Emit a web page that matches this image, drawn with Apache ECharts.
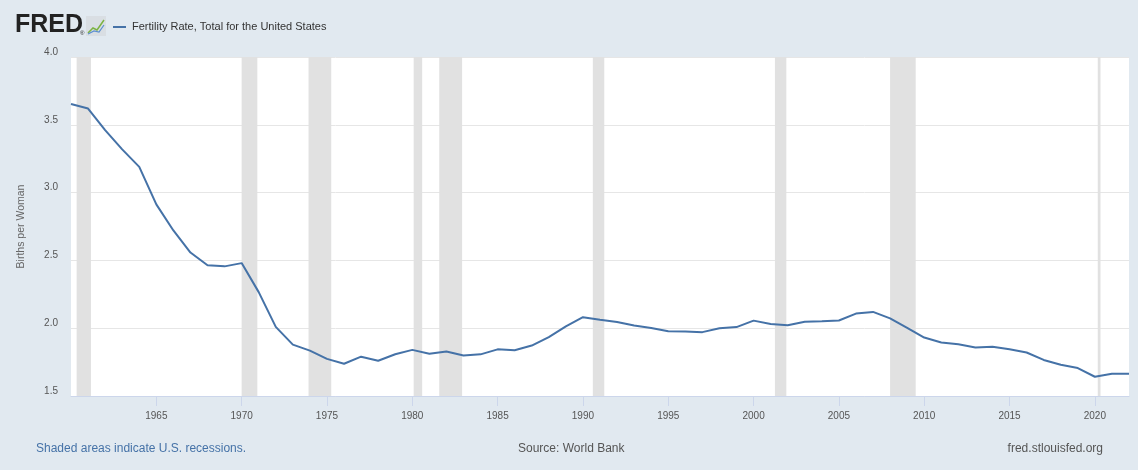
<!DOCTYPE html>
<html>
<head>
<meta charset="utf-8">
<script src="https://cdn.jsdelivr.net/npm/echarts@6/dist/echarts.min.js"></script>
<style>
  html, body { margin: 0; padding: 0; background: #e1e9f0; }
  #chartmain { width: 1138px; height: 470px; }
</style>
</head>
<body>
<div id="chartmain"></div>
<script>
// years and values (Births per Woman)
var years = [];
for (var y = 1960; y <= 2022; y++) years.push(y);
var fertility = [
  3.654, 3.620, 3.461, 3.319, 3.190, 2.913, 2.721, 2.558, 2.464, 2.456,
  2.480, 2.266, 2.010, 1.879, 1.835, 1.774, 1.738, 1.790, 1.760, 1.808,
  1.840, 1.812, 1.828, 1.799, 1.807, 1.844, 1.838, 1.872, 1.934, 2.014,
  2.081, 2.063, 2.046, 2.020, 2.002, 1.978, 1.976, 1.971, 1.999, 2.008,
  2.056, 2.031, 2.021, 2.048, 2.052, 2.057, 2.108, 2.120, 2.072, 2.002,
  1.931, 1.895, 1.881, 1.858, 1.863, 1.844, 1.821, 1.766, 1.730, 1.706,
  1.642, 1.664, 1.665
];
// US recessions as fractional years
var recessionStart = [1960.33, 1970.0, 1973.92, 1980.08, 1981.58, 1990.58, 2001.25, 2008.0, 2020.17];
var recessionEnd   = [1961.17, 1970.92, 1975.25, 1980.58, 1982.92, 1991.25, 2001.92, 2009.5, 2020.33];
var yTicks = { min: 1.5, max: 4.0, step: 0.5 };

var FONT = '"Liberation Sans", Arial, sans-serif';

var lineData = years.map(function (yr, i) { return [yr, fertility[i]]; });
var areas = recessionStart.map(function (s, i) { return [{ xAxis: s }, { xAxis: recessionEnd[i] }]; });

var chart = echarts.init(document.getElementById('chartmain'));
chart.setOption({
  backgroundColor: '#e1e9f0',
  animation: false,
  grid: {
    left: 71, right: 9, top: 57, bottom: 74,
    outerBoundsMode: 'none',
    show: true, backgroundColor: '#ffffff', borderWidth: 0
  },
  xAxis: {
    type: 'value', min: 1960, max: 2022, interval: 5,
    axisLine: { show: true, lineStyle: { color: '#ccd6eb', width: 1 } },
    axisTick: { show: true, length: 10, lineStyle: { color: '#ccd6eb' } },
    splitLine: { show: false },
    axisLabel: {
      color: '#555', fontSize: 10, fontFamily: FONT, margin: 15,
      showMinLabel: false, showMaxLabel: false,
      formatter: function (v) { return (v === 1960 || v === 2022) ? '' : String(v); }
    }
  },
  yAxis: {
    type: 'value', min: yTicks.min, max: yTicks.max, interval: yTicks.step,
    name: 'Births per Woman', nameLocation: 'middle', nameGap: 44,
    nameTextStyle: { color: '#666', fontSize: 10.5, fontFamily: FONT },
    axisLine: { show: false },
    axisTick: { show: false },
    splitLine: { lineStyle: { color: '#e6e6e6', width: 1 } },
    axisLabel: {
      color: '#555', fontSize: 10, fontFamily: FONT, margin: 13,
      verticalAlign: 'bottom',
      formatter: function (v) { return v.toFixed(1); }
    }
  },
  series: [{
    type: 'line',
    data: lineData,
    showSymbol: false,
    lineStyle: { color: '#4572a7', width: 2 },
    itemStyle: { color: '#4572a7' },
    z: 3,
    markArea: {
      silent: true,
      itemStyle: { color: '#e1e1e1' },
      data: areas
    }
  }],
  graphic: [
    { type: 'text', left: 15, top: 13,
      style: { text: 'FRED', font: 'bold 25px "Liberation Sans", Arial, sans-serif', fill: '#222' } },
    { type: 'text', left: 80, top: 30,
      style: { text: '®', font: '6px Arial', fill: '#222' } },
    { type: 'rect', shape: { x: 86, y: 16, width: 20, height: 20 }, style: { fill: '#d9dee3' } },
    { type: 'polyline', shape: { points: [[88, 33], [93, 28], [97, 30], [104, 20]] },
      style: { stroke: '#7cb342', lineWidth: 1.5, fill: null } },
    { type: 'polyline', shape: { points: [[88, 34], [94, 31], [99, 32], [104, 25]] },
      style: { stroke: '#5b8fd0', lineWidth: 1.2, fill: null } },
    { type: 'line', shape: { x1: 113, y1: 27, x2: 126, y2: 27 },
      style: { stroke: '#4572a7', lineWidth: 2 } },
    { type: 'text', left: 132, top: 21,
      style: { text: 'Fertility Rate, Total for the United States', font: '11px ' + FONT, fill: '#333' } },
    { type: 'text', left: 36, top: 443,
      style: { text: 'Shaded areas indicate U.S. recessions.', font: '12px ' + FONT, fill: '#4572a7' } },
    { type: 'text', left: 518, top: 443,
      style: { text: 'Source: World Bank', font: '12px ' + FONT, fill: '#555' } },
    { type: 'text', right: 35, top: 443,
      style: { text: 'fred.stlouisfed.org', font: '12px ' + FONT, fill: '#555' } }
  ]
});
</script>
</body>
</html>
